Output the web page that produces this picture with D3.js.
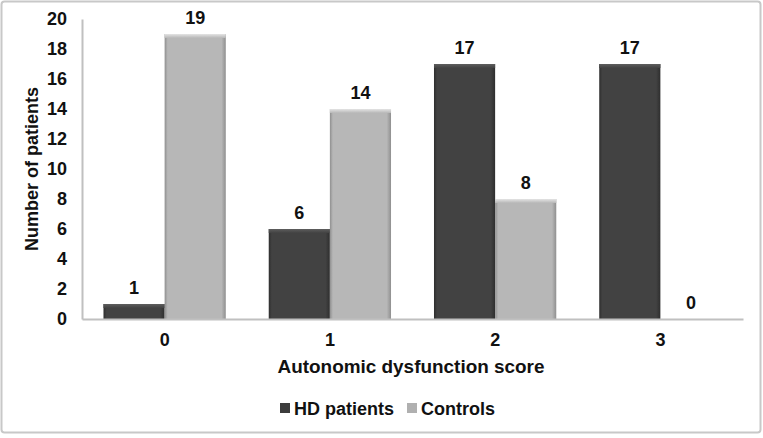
<!DOCTYPE html>
<html>
<head>
<meta charset="utf-8">
<title>autonomic dysfunction score</title>
<script type="text/javascript" src="https://d3js.org/d3.v7.min.js"></script>
<style>
  body { margin: 0; background: #fff; }
  text { font-family: "Liberation Sans", Arial, sans-serif; font-weight: bold; fill: #111; }
</style>
</head>
<body>
<script type="text/javascript">
// data
var categories = ["0", "1", "2", "3"]
var seriesNames = ["HD patients", "Controls"]
var hdPatients = [1, 6, 17, 17]
var controls = [19, 14, 8, 0]
var yTicks = [0, 2, 4, 6, 8, 10, 12, 14, 16, 18, 20]

var width = 763, height = 438
var fs = 18
var svg = d3.select("body").append("svg")
    .attr("width", width).attr("height", height)

// outer frame
svg.append("rect")
    .attr("x", 1.5).attr("y", 1.5)
    .attr("width", width - 4).attr("height", 431)
    .attr("rx", 3)
    .attr("fill", "none").attr("stroke", "#c8c8c8").attr("stroke-width", 2)

var x0 = 82, x1 = 743, yTop = 19, yBot = 319

var x = d3.scaleBand().domain(categories).range([x0, x1]).paddingInner(0.26).paddingOuter(0.13)
var xs = d3.scaleBand().domain(seriesNames).range([0, x.bandwidth()])
var y = d3.scaleLinear().domain([0, 20]).range([yBot, yTop])

// gradients for the bevelled bars
var defs = svg.append("defs")
function bevel(id, side, mid, top) {
    var g = defs.append("linearGradient").attr("id", id + "H")
    g.append("stop").attr("offset", "0%").attr("stop-color", side)
    g.append("stop").attr("offset", "5%").attr("stop-color", mid)
    g.append("stop").attr("offset", "93%").attr("stop-color", mid)
    g.append("stop").attr("offset", "100%").attr("stop-color", side)
    var v = defs.append("linearGradient").attr("id", id + "V")
        .attr("x1", 0).attr("x2", 0).attr("y1", 0).attr("y2", 1)
    v.append("stop").attr("offset", "0").attr("stop-color", top)
    v.append("stop").attr("offset", "1").attr("stop-color", mid)
}
bevel("hd", "#2e2e2e", "#424242", "#5e5e5e")
bevel("ct", "#8f8f8f", "#b7b7b7", "#e4e4e4")
var fills = { "HD patients": "hd", "Controls": "ct" }

// y axis
var yAxis = d3.axisLeft(y).tickValues(yTicks).tickSize(0).tickPadding(15)
var ga = svg.append("g").attr("transform", "translate(" + x0 + ",0)").call(yAxis)
ga.select(".domain").attr("stroke", "#c0c0c0").attr("stroke-width", 2)
ga.selectAll("text").attr("font-size", fs).attr("font-family", "Liberation Sans, Arial, sans-serif")
    .attr("font-weight", "bold").attr("fill", "#111")

// bars
var rows = []
categories.forEach(function(c, i) {
    rows.push({ cat: c, s: "HD patients", v: hdPatients[i] })
    rows.push({ cat: c, s: "Controls", v: controls[i] })
})

var bars = svg.append("g").selectAll("g").data(rows).enter().append("g")
    .attr("transform", function(d) { return "translate(" + (x(d.cat) + xs(d.s)) + ",0)" })

bars.filter(function(d) { return d.v > 0 }).append("rect")
    .attr("y", function(d) { return y(d.v) })
    .attr("width", xs.bandwidth())
    .attr("height", function(d) { return yBot - y(d.v) })
    .attr("fill", function(d) { return "url(#" + fills[d.s] + "H)" })
bars.filter(function(d) { return d.v > 0 }).append("rect")
    .attr("y", function(d) { return y(d.v) })
    .attr("width", xs.bandwidth())
    .attr("height", 4)
    .attr("fill", function(d) { return "url(#" + fills[d.s] + "V)" })

bars.append("text")
    .attr("x", xs.bandwidth() / 2)
    .attr("y", function(d) { return y(d.v) - 10 })
    .attr("text-anchor", "middle")
    .attr("font-size", fs)
    .text(function(d) { return d.v })

// x axis line
var xAxis = d3.axisBottom(x).tickSize(0).tickPadding(14)
var gx = svg.append("g").attr("transform", "translate(0," + yBot + ")").call(xAxis)
gx.select(".domain").attr("stroke", "#c0c0c0").attr("stroke-width", 2)
gx.selectAll("text").attr("font-size", fs).attr("font-family", "Liberation Sans, Arial, sans-serif")
    .attr("font-weight", "bold").attr("fill", "#111")

// titles
svg.append("text").attr("x", 411).attr("y", 373)
    .attr("text-anchor", "middle").attr("font-size", fs)
    .attr("textLength", 267).attr("lengthAdjust", "spacingAndGlyphs")
    .text("Autonomic dysfunction score")
svg.append("text")
    .attr("transform", "translate(38,169) rotate(-90)")
    .attr("text-anchor", "middle").attr("font-size", fs)
    .attr("textLength", 164).attr("lengthAdjust", "spacingAndGlyphs")
    .text("Number of patients")

// legend
var legendX = [280, 407]
var lg = svg.append("g").selectAll("g").data(seriesNames).enter().append("g")
    .attr("transform", function(d, i) { return "translate(" + legendX[i] + ",408)" })
lg.append("rect").attr("x", 0).attr("y", -5).attr("width", 10).attr("height", 10)
    .attr("fill", function(d) { return d == "HD patients" ? "#3c3c3c" : "#b0b0b0" })
lg.append("text").attr("x", 14).attr("y", 7).attr("font-size", fs)
    .text(function(d) { return d })
</script>
</body>
</html>
